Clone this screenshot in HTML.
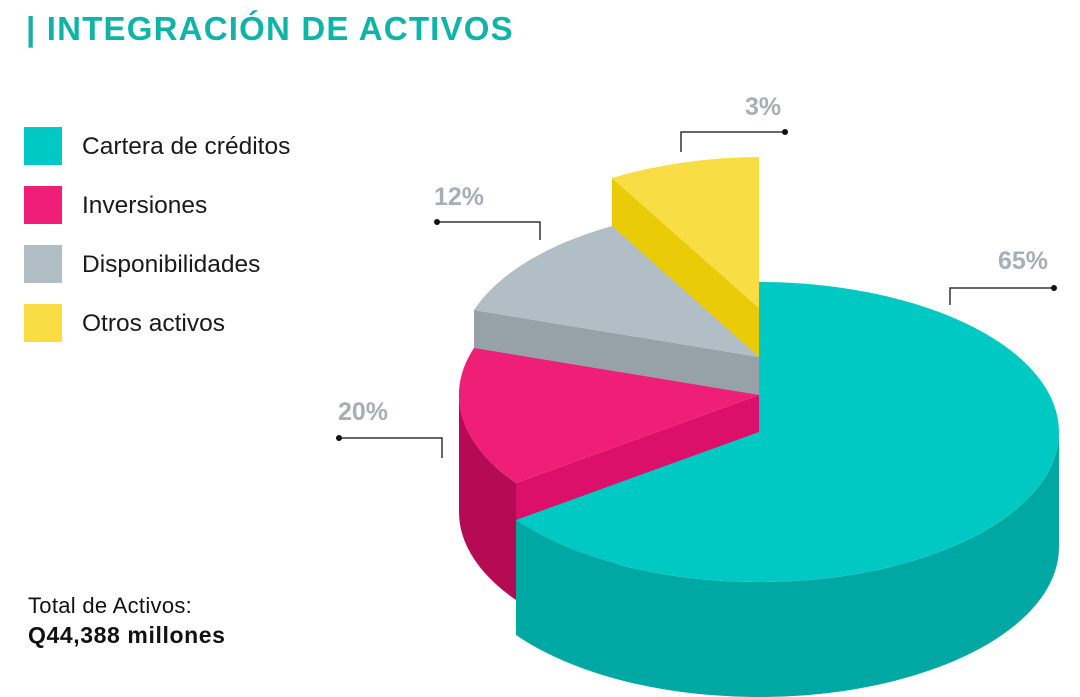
<!DOCTYPE html>
<html><head><meta charset="utf-8"><style>
body{margin:0;width:1080px;height:697px;background:#fff;overflow:hidden;position:relative;font-family:"Liberation Sans",sans-serif}
.t{position:absolute;white-space:nowrap}
.sq{position:absolute;left:24px;width:38px;height:38px}
.lg{position:absolute;left:82px;font-size:24.5px;color:#1a1a1a}
.pc{position:absolute;font-size:25px;font-weight:bold;color:#a6afb5}
</style></head><body>
<div class="t" style="left:26px;top:10px;font-size:33px;font-weight:bold;color:#10b3a8;letter-spacing:1.2px">| INTEGRACIÓN DE ACTIVOS</div>
<div class="sq" style="top:127px;background:#00c9c4"></div><div class="lg" style="top:133px">Cartera de créditos</div>
<div class="sq" style="top:186px;background:#ef1f78"></div><div class="lg" style="top:192px">Inversiones</div>
<div class="sq" style="top:245px;background:#b2bec6"></div><div class="lg" style="top:251px">Disponibilidades</div>
<div class="sq" style="top:304px;background:#f8de44"></div><div class="lg" style="top:310px">Otros activos</div>
<div class="t" style="left:28px;top:593px;font-size:22px;color:#111;letter-spacing:0.3px">Total de Activos:</div>
<div class="t" style="left:28px;top:622px;font-size:23px;font-weight:bold;color:#111;letter-spacing:0.6px">Q44,388 millones</div>
<div class="pc" style="left:745px;top:93px">3%</div>
<div class="pc" style="left:434px;top:183px">12%</div>
<div class="pc" style="left:998px;top:247px">65%</div>
<div class="pc" style="left:338px;top:398px">20%</div>
<svg width="1080" height="697" style="position:absolute;left:0;top:0">
<g stroke="#333" stroke-width="1.5" fill="none">
<path d="M785 132H681V152"/><path d="M437 222H540V240"/><path d="M1054 288H950V305"/><path d="M339 438H442V458"/>
</g>
<g fill="#111"><circle cx="785" cy="132" r="3"/><circle cx="437" cy="222" r="3"/><circle cx="1054" cy="288" r="3"/><circle cx="339" cy="438" r="3"/></g>
<path d="M759 308L612 178L612 232L759 360Z" fill="#eacb08"/>
<path d="M759 308L612 178A300 151 0 0 1 759 157Z" fill="#f8de44"/>
<path d="M759 357L474 310L474 350L759 397Z" fill="#97a2a8"/>
<path d="M759 357L474 310A300 150 0 0 1 612 226Z" fill="#b2bec6"/>
<path d="M759 395L516 483L516 600L759 512Z" fill="#dc0f6b"/>
<path d="M459 395A300 150 0 0 0 516 483L516 600A300 150 0 0 1 459 512Z" fill="#b50b55"/>
<path d="M759 395L516 483A300 150 0 0 1 474 348Z" fill="#ef1f78"/>
<path d="M1059 432A300 150 0 0 1 516 520L516 635A300 150 0 0 0 1059 547Z" fill="#00a8a3"/>
<path d="M759 432L759 282A300 150 0 1 1 516 520Z" fill="#00c9c4"/>
</svg>
</body></html>
